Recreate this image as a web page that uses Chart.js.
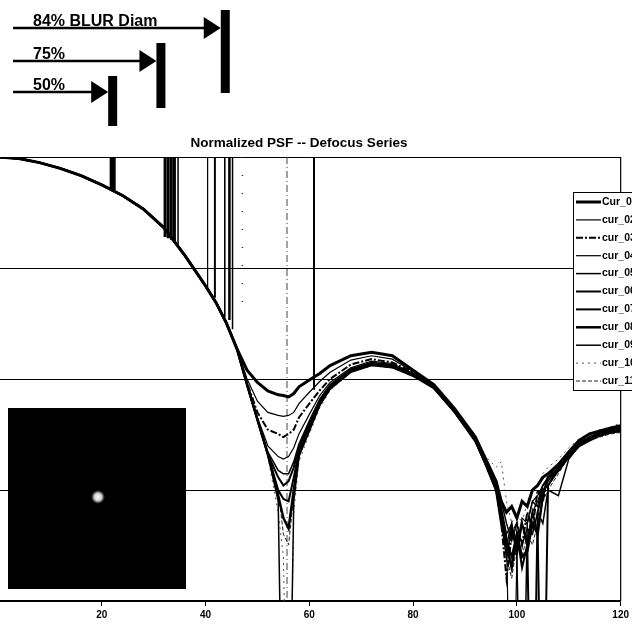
<!DOCTYPE html>
<html>
<head>
<meta charset="utf-8">
<script src="https://cdn.jsdelivr.net/npm/chart.js@4.4.1/dist/chart.umd.min.js"></script>
<style>
  html, body { margin: 0; padding: 0; background: #fff; overflow: hidden; }
  /* the original figure is cropped a few pixels into the plot on the left */
  #psf { position: absolute; left: -5px; top: 0; }
</style>
</head>
<body>
<canvas id="psf" width="637" height="625"></canvas>
<script>
// radius from PSF centre (pixels)
const lobeX = [0, 4, 8, 12, 16, 20, 24, 28, 32, 36, 40, 42, 44, 46];
// central lobe - all defocus steps sit on top of each other here
const lobeY = [1, 0.97, 0.89, 0.79, 0.68, 0.56, 0.45, 0.34, 0.23, 0.13, 0.069, 0.049, 0.032, 0.019];

const tailX = [48, 50, 52, 54, 55, 56, 57, 58, 60, 62, 64, 68, 72, 76, 80, 84, 88, 92, 94, 96,
               97, 98, 99, 100, 101, 102, 103, 104, 105, 106, 108, 110, 112, 114, 116, 118, 120];

const seriesNames = ['Cur_01', 'cur_02', 'cur_03', 'cur_04', 'cur_05', 'cur_06',
                     'cur_07', 'cur_08', 'cur_09', 'cur_10', 'cur_11'];

// 0.000001 = dropped to zero (below the plot floor)
const cur01 = [0.012, 0.0093, 0.0078, 0.0072, 0.0071, 0.0069, 0.0074, 0.0085, 0.0098, 0.0112, 0.0132, 0.0162, 0.0174, 0.0162, 0.012, 0.0089, 0.0054, 0.003, 0.0019, 0.0012,
               0.00079, 0.00063, 0.00071, 0.00056, 0.00079, 0.00071, 0.001, 0.0011, 0.0013, 0.0014, 0.0017, 0.0022, 0.0028, 0.0032, 0.0034, 0.0036, 0.0038];
const cur02 = [0.01, 0.0063, 0.005, 0.0047, 0.0046, 0.0047, 0.005, 0.006, 0.0076, 0.0095, 0.0115, 0.0148, 0.0162, 0.0151, 0.0117, 0.0087, 0.0052, 0.0029, 0.0018, 0.0011,
               0.00063, 0.0004, 0.0005, 0.00032, 0.00056, 0.0005, 0.00079, 0.00089, 0.0011, 0.0013, 0.0016, 0.0021, 0.0026, 0.003, 0.0033, 0.0035, 0.0036];
const cur03 = [0.0093, 0.005, 0.0035, 0.0032, 0.003, 0.0032, 0.0035, 0.0045, 0.006, 0.0079, 0.01, 0.0135, 0.0151, 0.0141, 0.0115, 0.0087, 0.0052, 0.0028, 0.0018, 0.0011,
               0.0005, 0.00016, 0.0004, 0.0005, 0.00032, 0.00063, 0.00045, 0.001, 0.00079, 0.0013, 0.0015, 0.002, 0.0025, 0.003, 0.0032, 0.0033, 0.0035];
const cur04 = [0.0089, 0.0045, 0.0025, 0.002, 0.0019, 0.002, 0.0024, 0.0032, 0.0048, 0.0071, 0.0093, 0.0126, 0.0145, 0.0138, 0.0112, 0.0085, 0.0051, 0.0028, 0.0017, 0.001,
               0.00071, 0.0004, 0.000001, 0.00025, 0.0005, 0.00035, 0.00063, 0.00079, 0.0011, 0.0012, 0.0016, 0.0022, 0.0027, 0.003, 0.0032, 0.0035, 0.0036];
const cur05 = [0.0089, 0.0043, 0.0022, 0.0015, 0.0014, 0.0014, 0.0018, 0.0026, 0.0042, 0.0066, 0.0089, 0.0123, 0.0141, 0.0135, 0.0112, 0.0085, 0.005, 0.0027, 0.0017, 0.001,
               0.00063, 0.00032, 0.0005, 0.00025, 0.000001, 0.0005, 0.00079, 0.00071, 0.0011, 0.0013, 0.0017, 0.0021, 0.0026, 0.0029, 0.0032, 0.0034, 0.0035];
const cur06 = [0.0089, 0.0043, 0.0021, 0.0013, 0.0011, 0.0012, 0.0016, 0.0024, 0.004, 0.0063, 0.0087, 0.012, 0.0138, 0.0132, 0.011, 0.0085, 0.0051, 0.0028, 0.0017, 0.001,
               0.00056, 0.00035, 0.00025, 0.0004, 0.0002, 0.00032, 0.000001, 0.00063, 0.001, 0.0011, 0.0015, 0.002, 0.0025, 0.0029, 0.0032, 0.0033, 0.0035];
const cur07 = [0.0089, 0.0043, 0.0021, 0.001, 0.00083, 0.00079, 0.0013, 0.0022, 0.0038, 0.0062, 0.0085, 0.012, 0.0138, 0.0132, 0.011, 0.0083, 0.005, 0.0028, 0.0017, 0.0011,
               0.00063, 0.00025, 0.00045, 0.00028, 0.0005, 0.00032, 0.00063, 0.0004, 0.000001, 0.0011, 0.0016, 0.0021, 0.0026, 0.003, 0.0033, 0.0035, 0.0037];
const cur08 = [0.0089, 0.0043, 0.0021, 0.00089, 0.00056, 0.00045, 0.001, 0.0021, 0.0035, 0.0059, 0.0083, 0.0117, 0.0135, 0.0129, 0.0107, 0.0083, 0.0051, 0.0028, 0.0017, 0.001,
               0.0005, 0.00032, 0.0002, 0.0004, 0.00025, 0.00028, 0.0005, 0.0004, 0.00089, 0.0013, 0.0015, 0.002, 0.0025, 0.0028, 0.0031, 0.0033, 0.0034];
const cur09 = [0.0089, 0.0043, 0.0021, 0.00079, 0.000001, 0.000001, 0.00079, 0.002, 0.0034, 0.0058, 0.0081, 0.0115, 0.0132, 0.0126, 0.0107, 0.0085, 0.0052, 0.0028, 0.0018, 0.0011,
               0.00079, 0.0005, 0.00035, 0.0005, 0.00032, 0.00045, 0.0004, 0.00063, 0.0005, 0.001, 0.00089, 0.0019, 0.0025, 0.0028, 0.0032, 0.0034, 0.0035];
const cur10 = [0.0089, 0.0043, 0.002, 0.00063, 0.00025, 0.000001, 0.00063, 0.0018, 0.0032, 0.0055, 0.0079, 0.0115, 0.0132, 0.0126, 0.0105, 0.0087, 0.0054, 0.003, 0.002, 0.0016,
               0.0018, 0.00079, 0.0005, 0.00063, 0.0005, 0.00079, 0.001, 0.0011, 0.0014, 0.0016, 0.0019, 0.0024, 0.0029, 0.0032, 0.0035, 0.0037, 0.004];
const cur11 = [0.0089, 0.0043, 0.0021, 0.001, 0.0004, 0.00032, 0.00089, 0.002, 0.0035, 0.0058, 0.0081, 0.0117, 0.0135, 0.0129, 0.0107, 0.0083, 0.0051, 0.0028, 0.0017, 0.001,
               0.0005, 0.00025, 0.00016, 0.00032, 0.00025, 0.0004, 0.00032, 0.0005, 0.00079, 0.001, 0.0014, 0.002, 0.0025, 0.0028, 0.003, 0.0032, 0.0033];
const tails = [cur01, cur02, cur03, cur04, cur05, cur06, cur07, cur08, cur09, cur10, cur11];

// blur-diameter marker lines dropped from the top of the plot to the curve
const markX   = [22.1, 32.2, 32.8, 33.4, 34.0, 34.7, 40.4, 41.8, 43.7, 44.6, 45.2, 47.1, 55.7, 60.9];
const markLow = [0.5, 0.19, 0.185, 0.18, 0.17, 0.155, 0.063, 0.054, 0.036, 0.034, 0.028, 0.035, 0.0001, 0.008];

// arrows above the plot
const blurLabels = ['84% BLUR Diam', '75%', '50%'];
const blurX = [43.8, 31.4, 22.1];

const chartTitle = 'Normalized PSF -- Defocus Series';
const yTicks = [0.0001, 0.001, 0.01, 0.1, 1];
const xTicks = [0, 20, 40, 60, 80, 100, 120];

// line looks
const seriesStyle = [
  { w: 3 }, { w: 1.2 }, { w: 2, dash: [7, 2, 2, 2] }, { w: 1.2 }, { w: 1.5 }, { w: 2 },
  { w: 2 }, { w: 2.5 }, { w: 1.5 }, { w: 1, dash: [2, 4], color: '#555' }, { w: 1, dash: [4, 2], color: '#222' }
];
const markStyle = [
  { w: 6 }, { w: 3 }, { w: 3 }, { w: 3 }, { w: 3 }, { w: 1.5 }, { w: 1.2 }, { w: 2 }, { w: 1 }, { w: 2.5 }, { w: 1.5 },
  { w: 1.5, dash: [1, 17], color: '#333' }, { w: 1, dash: [7, 3, 1, 3], color: '#444' }, { w: 2 }
];

const OFF = 5; // canvas is shifted 5px left of the page

const datasets = [];
tails.forEach((tail, k) => {
  const s = seriesStyle[k];
  const pts = lobeX.map((x, i) => ({ x: x, y: lobeY[i] }))
    .concat(tailX.map((x, i) => ({ x: x, y: tail[i] })));
  datasets.push({
    label: seriesNames[k],
    data: pts,
    borderColor: s.color || '#000',
    borderWidth: s.w,
    borderDash: s.dash || [],
    pointRadius: 0,
    tension: 0
  });
});
markX.forEach((x, i) => {
  const s = markStyle[i];
  datasets.push({
    label: '',
    isMark: true,
    data: [{ x: x, y: 1 }, { x: x, y: markLow[i] }],
    borderColor: s.color || '#000',
    borderWidth: s.w,
    borderDash: s.dash || [],
    borderCapStyle: 'butt',
    pointRadius: 0
  });
});

const figurePlugin = {
  id: 'figure',
  afterDraw(chart) {
    const { ctx, chartArea: a, scales } = chart;
    const xs = scales.x;
    ctx.save();

    // right frame of the plot
    ctx.strokeStyle = '#000';
    ctx.lineWidth = 1.2;
    ctx.beginPath();
    ctx.moveTo(a.right, a.top);
    ctx.lineTo(a.right, a.bottom);
    ctx.stroke();

    // title (sits a little left of the plot centre in the original)
    ctx.fillStyle = '#000';
    ctx.font = 'bold 13.5px "Liberation Sans", Arial, sans-serif';
    ctx.textAlign = 'center';
    ctx.textBaseline = 'middle';
    ctx.fillText(chartTitle, 299 + OFF, 143);
    ctx.textAlign = 'left';

    // inset: image of the spot
    ctx.fillStyle = '#000';
    ctx.fillRect(8 + OFF, 408, 178, 181);
    const g = ctx.createRadialGradient(98 + OFF, 497, 0, 98 + OFF, 497, 7);
    g.addColorStop(0, '#fff');
    g.addColorStop(0.55, '#ccc');
    g.addColorStop(1, 'rgba(120,120,120,0)');
    ctx.fillStyle = g;
    ctx.beginPath();
    ctx.arc(98 + OFF, 497, 7, 0, Math.PI * 2);
    ctx.fill();

    // blur diameter arrows
    const rows = [{ y: 28, top: 10, bot: 93 }, { y: 61, top: 43, bot: 108 }, { y: 92, top: 76, bot: 126 }];
    ctx.fillStyle = '#000';
    ctx.strokeStyle = '#000';
    ctx.font = 'bold 16px "Liberation Sans", Arial, sans-serif';
    ctx.textBaseline = 'alphabetic';
    rows.forEach((r, i) => {
      const bx = xs.getPixelForValue(blurX[i]);
      const tip = bx - 4.5;
      ctx.fillRect(bx - 4.5, r.top, 9, r.bot - r.top);
      ctx.lineWidth = 2.5;
      ctx.beginPath();
      ctx.moveTo(13 + OFF, r.y);
      ctx.lineTo(tip - 14, r.y);
      ctx.stroke();
      ctx.beginPath();
      ctx.moveTo(tip - 17, r.y - 11);
      ctx.lineTo(tip, r.y);
      ctx.lineTo(tip - 17, r.y + 11);
      ctx.closePath();
      ctx.fill();
      ctx.fillText(blurLabels[i], 33 + OFF, r.y - 2);
    });

    // legend box inside the plot, cut by the right edge
    const lx = 573 + OFF, ly = 192;
    ctx.fillStyle = '#fff';
    ctx.fillRect(lx, ly, 120, 198);
    ctx.lineWidth = 1;
    ctx.strokeStyle = '#000';
    ctx.strokeRect(lx + 0.5, ly + 0.5, 120, 198);
    ctx.font = 'bold 10.5px "Liberation Sans", Arial, sans-serif';
    ctx.textBaseline = 'middle';
    chart.data.datasets.filter(d => !d.isMark).forEach((d, i) => {
      const yy = 202 + i * 17.9;
      ctx.strokeStyle = d.borderColor;
      ctx.lineWidth = d.borderWidth;
      ctx.setLineDash(d.borderDash);
      ctx.beginPath();
      ctx.moveTo(lx + 3, yy);
      ctx.lineTo(lx + 28, yy);
      ctx.stroke();
      ctx.setLineDash([]);
      ctx.fillStyle = '#000';
      ctx.fillText(d.label, lx + 29, yy);
    });
    ctx.restore();
  }
};

Chart.defaults.font.family = '"Liberation Sans", Arial, sans-serif';
Chart.defaults.color = '#000';

new Chart(document.getElementById('psf').getContext('2d'), {
  type: 'line',
  data: { datasets: datasets },
  options: {
    responsive: false,
    animation: false,
    events: [],
    layout: { padding: { top: 157, right: 11, bottom: 1, left: 0 } },
    plugins: {
      legend: { display: false },
      tooltip: { enabled: false },
      title: { display: false }
    },
    scales: {
      x: {
        type: 'linear',
        min: 0,
        max: 120,
        afterBuildTicks: s => { s.ticks = xTicks.map(v => ({ value: v })); },
        ticks: {
          padding: 3,
          font: { size: 10, weight: 'bold' },
          callback: v => (v === 0 ? '' : v)
        },
        grid: { drawOnChartArea: false, drawTicks: true, tickLength: 5, color: '#000' },
        border: { display: true, color: '#000', width: 1.5 }
      },
      y: {
        type: 'logarithmic',
        min: 0.0001,
        max: 1,
        afterBuildTicks: s => { s.ticks = yTicks.map(v => ({ value: v })); },
        ticks: { display: false },
        grid: { color: '#000', lineWidth: 1, drawTicks: false },
        border: { display: false }
      }
    }
  },
  plugins: [figurePlugin]
});
</script>
</body>
</html>
